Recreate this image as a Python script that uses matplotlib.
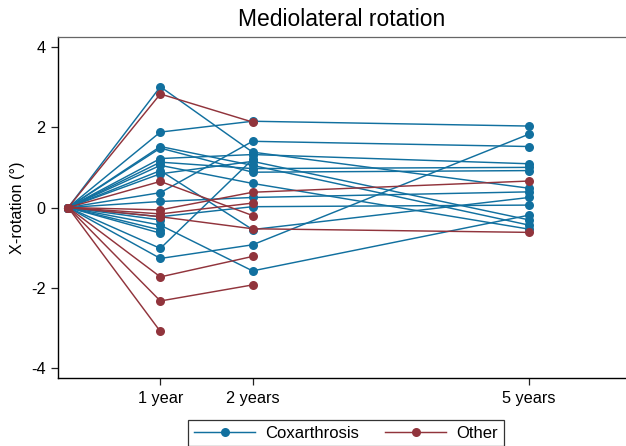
import numpy as np
import matplotlib.pyplot as plt
from matplotlib.lines import Line2D

plt.rcParams['font.family'] = ['Liberation Sans', 'DejaVu Sans']

#-------------------------------DATA-------------------------------------------#
# follow-up times (years), baseline is 0
times = [0, 1, 2, 5]
tick_pos = [1, 2, 5]
tick_labels = ['1 year', '2 years', '5 years']

# x-rotation per patient at 1y, 2y, 5y (baseline always 0), nan = missing
cox_1y = [3.01, 1.88, 1.52, 1.48, 1.22, 1.13, 1.05, 0.92, 0.84, 0.37, 0.15, -0.23, -0.31, -0.44, -0.56, -0.64, -1.02, -1.27]
cox_2y = [1.38, 2.15, 1.05, 0.88, 1.32, 0.97, 0.60, -0.55, 1.15, 1.65, 0.25, 0.02, np.nan, -1.58, np.nan, np.nan, 1.20, -0.93]
cox_5y = [0.48, 2.03, -0.44, 0.92, 1.09, 1.00, -0.54, 0.25, -0.31, 1.52, 0.39, 0.06, np.nan, -0.19, np.nan, np.nan, np.nan, 1.83]

oth_1y = [2.83, 0.65, -0.06, -0.16, -0.23, -1.73, -2.33, -3.09]
oth_2y = [2.13, -0.20, 0.38, 0.11, -0.53, -1.22, -1.93, np.nan]
oth_5y = [np.nan, np.nan, 0.66, np.nan, -0.62, np.nan, np.nan, np.nan]

blue = '#11709f'
red = '#91343c'

#-------------------------------PLOT-------------------------------------------#
fig = plt.figure(figsize=(6.26, 4.46), dpi=100)
ax = fig.add_axes([58/626, 68/446, 1 - 58/626, 341/446])


def draw_group(v1, v2, v5, col):
    for a, b, c in zip(v1, v2, v5):
        y = np.array([0, a, b, c], dtype=float)
        ok = ~np.isnan(y)
        ax.plot(np.array(times)[ok], y[ok], '-o', color=col, lw=1.05, ms=6.5,
                markeredgewidth=0, solid_joinstyle='round')


draw_group(cox_1y, cox_2y, cox_5y, blue)
draw_group(oth_1y, oth_2y, oth_5y, red)

ax.set_xlim(-0.11, 6.05)
ax.set_ylim(-4.25, 4.25)
ax.set_xticks(tick_pos)
ax.set_xticklabels(tick_labels)
ax.set_yticks([-4, -2, 0, 2, 4])
ax.set_yticklabels(['-4', '-2', '0', '2', '4'])
ax.tick_params(labelsize=11.7, length=5, width=0.9, color='#222222', pad=4)

ax.spines['right'].set_visible(False)
ax.spines['top'].set_color('#666666')
ax.spines['top'].set_linewidth(0.9)
ax.spines['left'].set_linewidth(1.0)
ax.spines['bottom'].set_linewidth(1.0)

ax.set_ylabel('X-rotation (°)', fontsize=11.7, labelpad=4)
fig.text(342/626, 1 - 20/446, 'Mediolateral rotation', fontsize=16.5,
         ha='center', va='center')

handles = [Line2D([], [], color=blue, marker='o', lw=1.05, ms=6.5, markeredgewidth=0),
           Line2D([], [], color=red, marker='o', lw=1.05, ms=6.5, markeredgewidth=0)]
leg = fig.legend(handles, ['Coxarthrosis', 'Other'], ncol=2, loc='lower center',
                 bbox_to_anchor=(346/626, -0.012), fontsize=12, frameon=True,
                 fancybox=False, handlelength=3.65, columnspacing=1.6,
                 borderpad=0.35, handletextpad=0.6, borderaxespad=0.3)
leg.get_frame().set_edgecolor('black')
leg.get_frame().set_linewidth(0.9)

fig.savefig('out.png', dpi=100)
